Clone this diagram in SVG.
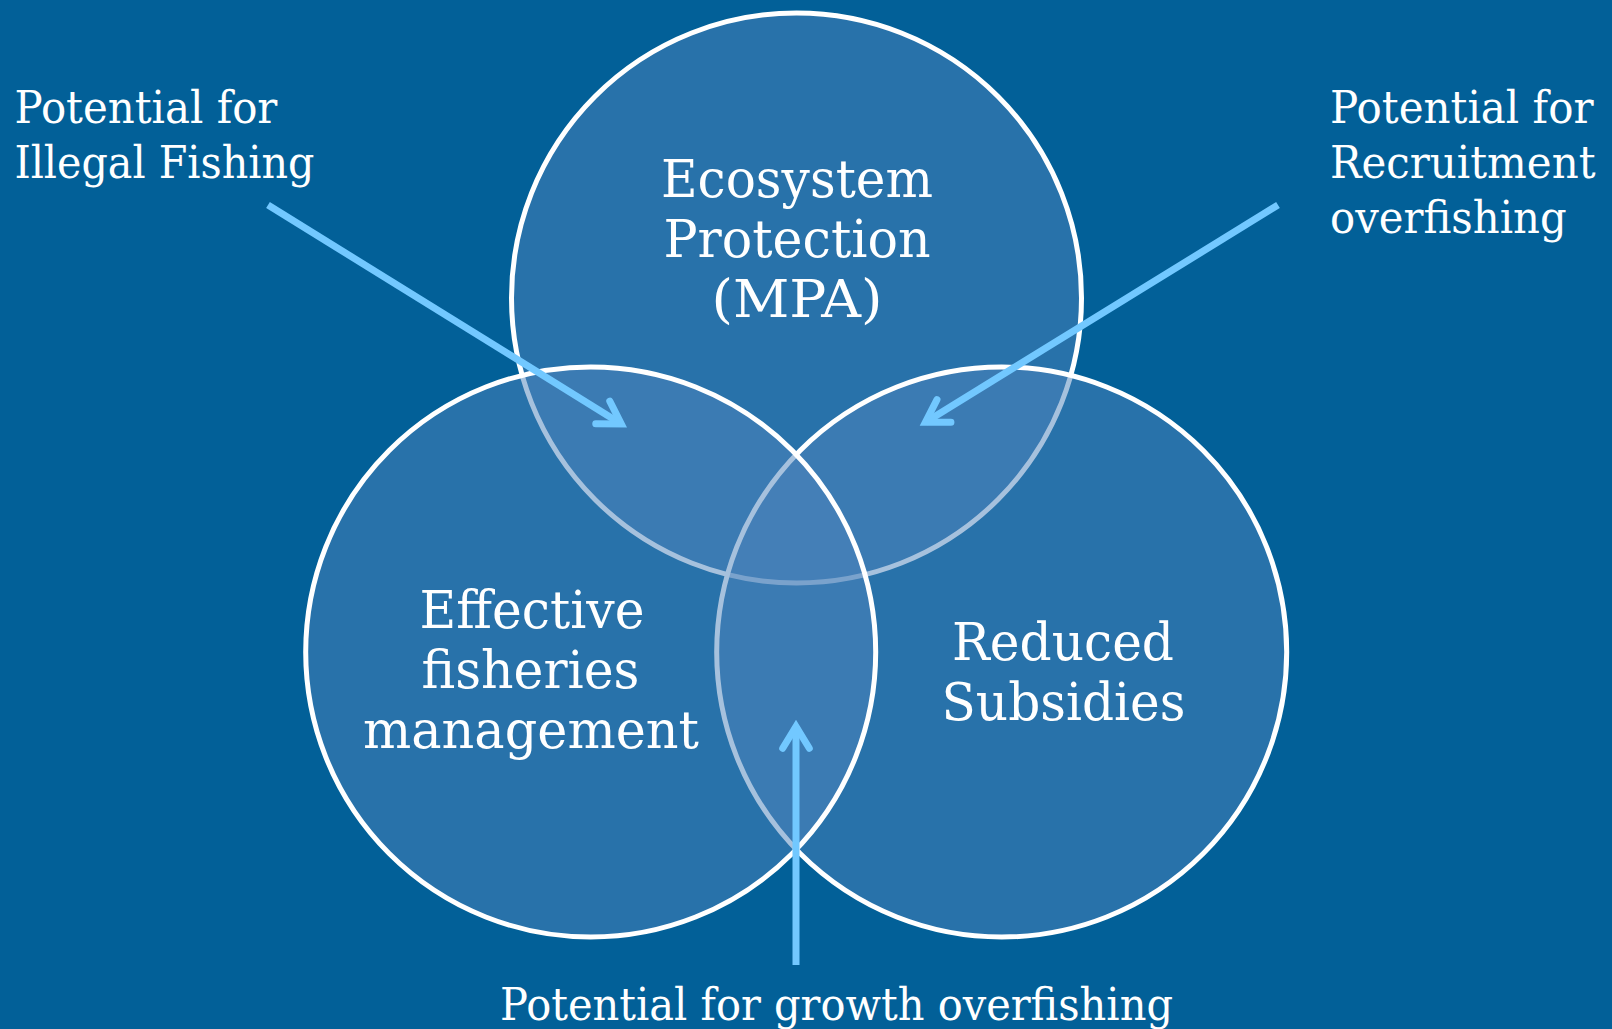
<svg xmlns="http://www.w3.org/2000/svg" width="1612" height="1029" viewBox="0 0 1612 1029">
<style>
.bg{fill:#026098}
.venn{fill:#4E84BC;fill-opacity:.5;stroke:#ffffff;stroke-width:5}
.t{font-family:"DejaVu Serif","Liberation Serif",serif;fill:#ffffff}
.lbl{font-size:44px}
.ctr{font-size:52px;text-anchor:middle}
.arrow{stroke:#72C8FF;stroke-width:7;fill:none;stroke-linecap:butt}
</style>
<defs>
<marker id="ah" markerUnits="userSpaceOnUse" orient="auto" overflow="visible" markerWidth="1" markerHeight="1" refX="0" refY="0">
<path d="M-21.8,-13.3 L0,0 L-21.8,13.3" fill="none" stroke="#72C8FF" stroke-width="7" stroke-linecap="round" stroke-linejoin="miter"/>
</marker>
</defs>
<rect class="bg" x="0" y="0" width="1612" height="1029"/>

<g id="node-mpa">
<circle class="venn" cx="796.5" cy="298" r="285"/>
<text class="t ctr" x="797" y="197" textLength="272" lengthAdjust="spacingAndGlyphs">Ecosystem</text>
<text class="t ctr" x="797" y="257" textLength="267" lengthAdjust="spacingAndGlyphs">Protection</text>
<text class="t ctr" x="797" y="317" textLength="171" lengthAdjust="spacingAndGlyphs">(MPA)</text>
</g>
<g id="node-subsidies">
<circle class="venn" cx="1001.7" cy="652" r="285"/>
<text class="t ctr" x="1063" y="660" textLength="222" lengthAdjust="spacingAndGlyphs">Reduced</text>
<text class="t ctr" x="1063.5" y="720" textLength="244" lengthAdjust="spacingAndGlyphs">Subsidies</text>
</g>
<g id="node-management">
<circle class="venn" cx="590.7" cy="652" r="285"/>
<text class="t ctr" x="532" y="628" textLength="225" lengthAdjust="spacingAndGlyphs">Effective</text>
<text class="t ctr" x="530.5" y="688" textLength="218" lengthAdjust="spacingAndGlyphs">fisheries</text>
<text class="t ctr" x="531" y="748" textLength="336" lengthAdjust="spacingAndGlyphs">management</text>
</g>

<g id="label-illegal">
<text class="t lbl" x="14.4" y="123" textLength="263" lengthAdjust="spacingAndGlyphs">Potential for</text>
<text class="t lbl" x="14.4" y="178" textLength="300" lengthAdjust="spacingAndGlyphs">Illegal Fishing</text>
</g>
<g id="label-recruitment">
<text class="t lbl" x="1330" y="123" textLength="263.5" lengthAdjust="spacingAndGlyphs">Potential for</text>
<text class="t lbl" x="1330" y="178" textLength="265.5" lengthAdjust="spacingAndGlyphs">Recruitment</text>
<text class="t lbl" x="1330" y="233" textLength="236.7" lengthAdjust="spacingAndGlyphs">overfishing</text>
</g>
<g id="label-growth">
<text class="t lbl" x="500" y="1020" textLength="673" lengthAdjust="spacingAndGlyphs">Potential for growth overfishing</text>
</g>

<g id="connectors">
<line class="arrow" x1="268" y1="205" x2="621.3" y2="423.9" marker-end="url(#ah)"/>
<line class="arrow" x1="1278" y1="205" x2="925.4" y2="422.3" marker-end="url(#ah)"/>
<line class="arrow" x1="796" y1="965" x2="796" y2="726.5" marker-end="url(#ah)"/>
</g>
</svg>
